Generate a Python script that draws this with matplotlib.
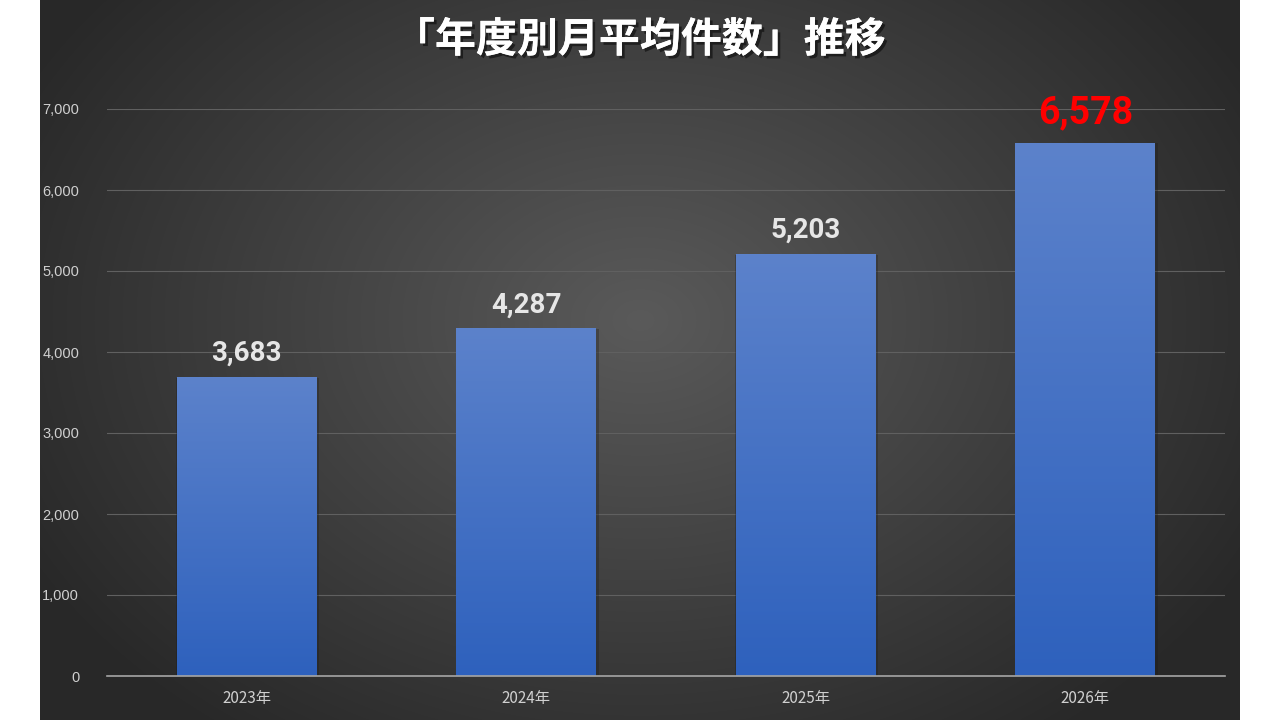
import numpy as np
import matplotlib
matplotlib.use("Agg")
import matplotlib.pyplot as plt
import matplotlib.patheffects as pe
from matplotlib.colors import LinearSegmentedColormap

categories = ["2023年", "2024年", "2025年", "2026年"]
values = [3683, 4287, 5203, 6578]
label_colors = ["#e6e6e6", "#e6e6e6", "#e6e6e6", "#ff0000"]
title = "「年度別月平均件数」推移"

plt.rcParams['font.family'] = ['Noto Sans CJK JP', 'DejaVu Sans']

W, H = 1280, 720
fig = plt.figure(figsize=(W/100, H/100), dpi=100, facecolor="white")

# dark radial-gradient background panel
bg = fig.add_axes([40/W, 0, 1200/W, 1], zorder=0)
yy, xx = np.mgrid[0:720, 0:1200]
r = np.sqrt(((xx - 600) / 700.0) ** 2 + ((yy - 320) / 520.0) ** 2)
r = np.clip(r, 0, 1)
v = 0x5a / 255 * (1 - r) + 0x28 / 255 * r
bg.imshow(np.dstack([v, v, v]), aspect="auto", extent=[0, 1, 0, 1])
bg.set_axis_off()

ax = fig.add_axes([107/W, (720-676)/H, (1225-107)/W, (676-109)/H], zorder=1)
ax.patch.set_alpha(0)

x = np.arange(len(categories))
cmap = LinearSegmentedColormap.from_list("bar", ["#2e61bd", "#5c82cb"])
bars = ax.bar(x, values, width=0.5, color="none", zorder=3)
grad = np.linspace(0, 1, 256).reshape(-1, 1)
for b, val in zip(bars, values):
    x0 = b.get_x()
    w = b.get_width()
    # soft shadow
    ax.bar(x0 + w / 2 + 0.003, val, width=w + 0.012, color="#1a1a1a", alpha=0.3, zorder=2)
    ax.imshow(grad, cmap=cmap, origin="lower", aspect="auto",
              extent=[x0, x0 + w, 0, val], zorder=3)
ax.set_xlim(-0.5, len(categories) - 0.5)
ax.set_ylim(0, 7000)

for xi, val, c in zip(x, values, label_colors):
    big = c == "#ff0000"
    ax.text(xi, val + (140 if big else 130), f"{val:,}", ha="center", va="bottom",
            fontsize=27 if big else 20, fontweight="bold", color=c,
            family=["Roboto", "DejaVu Sans"], zorder=5)

ax.set_yticks(range(0, 7001, 1000))
ax.set_yticklabels([f"{t:,}" for t in range(0, 7001, 1000)],
                   family=["Liberation Sans", "DejaVu Sans"], fontsize=10.5, color="#d0d0d0")
ax.set_xticks(x)
ax.set_xticklabels(categories, fontsize=11, color="#d0d0d0")
ax.tick_params(axis="both", length=0)
ax.tick_params(axis="y", pad=20)
ax.tick_params(axis="x", pad=10)
ax.grid(axis="y", color="#606060", linewidth=0.8, zorder=1)
for s in ["top", "right", "left"]:
    ax.spines[s].set_visible(False)
ax.spines["bottom"].set_color("#a6a6a6")
ax.spines["bottom"].set_linewidth(1.2)
ax.spines["bottom"].set_zorder(4)

fig.text(640/W, 1 - 40/H, title, ha="center", va="center", fontsize=29.5,
         fontweight="bold", color="white", zorder=6,
         path_effects=[pe.withSimplePatchShadow(offset=(2, -2), shadow_rgbFace="black", alpha=0.5),
                       pe.Normal()])

fig.savefig("out.png", dpi=100, facecolor="white")
